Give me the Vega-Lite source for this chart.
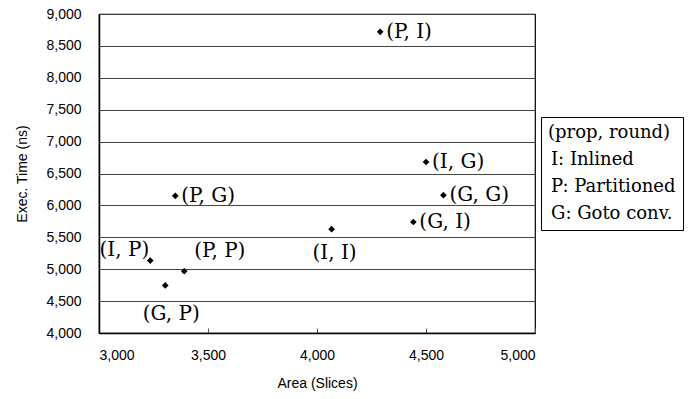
{
  "$schema": "https://vega.github.io/schema/vega-lite/v6.json",
  "width": 436,
  "height": 319,
  "autosize": "none",
  "padding": {"left": 99, "top": 14, "right": 156, "bottom": 66},
  "background": "white",
  "data": {
    "values": [
      {"area": 4290, "time": 8720, "label": "(P, I)", "prop": "P", "round": "I"},
      {"area": 4500, "time": 6680, "label": "(I, G)", "prop": "I", "round": "G"},
      {"area": 4580, "time": 6160, "label": "(G, G)", "prop": "G", "round": "G"},
      {"area": 4442, "time": 5740, "label": "(G, I)", "prop": "G", "round": "I"},
      {"area": 4067, "time": 5628, "label": "(I, I)", "prop": "I", "round": "I"},
      {"area": 3350, "time": 6150, "label": "(P, G)", "prop": "P", "round": "G"},
      {"area": 3235, "time": 5135, "label": "(I, P)", "prop": "I", "round": "P"},
      {"area": 3304, "time": 4745, "label": "(G, P)", "prop": "G", "round": "P"},
      {"area": 3391, "time": 4968, "label": "(P, P)", "prop": "P", "round": "P"}
    ]
  },
  "encoding": {
    "x": {
      "field": "area", "type": "quantitative",
      "scale": {"domain": [3000, 5000], "nice": false, "zero": false},
      "axis": {
        "title": "Area (Slices)", "format": ",.0f", "values": [3000, 3500, 4000, 4500, 5000],
        "grid": false, "domainColor": "black", "domainWidth": 1.5,
        "tickColor": "#555", "tickSize": -5, "tickWidth": 1,
        "labelFont": "Liberation Sans", "labelFontSize": 14, "labelColor": "black", "labelPadding": 20,
        "titleFont": "Liberation Sans", "titleFontSize": 14, "titleFontWeight": "normal", "titleColor": "black", "titlePadding": 14
      }
    },
    "y": {
      "field": "time", "type": "quantitative",
      "scale": {"domain": [4000, 9000], "nice": false, "zero": false},
      "axis": {
        "title": "Exec. Time (ns)", "format": ",.0f", "values": [4000, 4500, 5000, 5500, 6000, 6500, 7000, 7500, 8000, 8500, 9000],
        "grid": true, "gridColor": "#444", "gridWidth": 1.2, "gridOpacity": 1,
        "domainColor": "black", "domainWidth": 1.5, "ticks": false,
        "labelFont": "Liberation Sans", "labelFontSize": 14, "labelColor": "black", "labelPadding": 18,
        "titleFont": "Liberation Sans", "titleFontSize": 14, "titleFontWeight": "normal", "titleColor": "black", "titlePadding": 16
      }
    }
  },
  "layer": [
    {
      "mark": {"type": "point", "shape": "diamond", "filled": true, "size": 45, "opacity": 1},
      "encoding": {
        "color": {
          "field": "prop", "type": "nominal",
          "scale": {"domain": ["I", "P", "G"], "range": ["black", "black", "black"]},
          "legend": {
            "title": "(prop, round)",
            "orient": "none", "legendX": 442, "legendY": 103,
            "labelExpr": "datum.label == 'I' ? 'I: Inlined' : datum.label == 'P' ? 'P: Partitioned' : 'G: Goto conv.'",
            "symbolSize": 0, "symbolOpacity": 0, "symbolStrokeWidth": 0, "labelOffset": -15,
            "strokeColor": "black", "fillColor": "white", "padding": 7,
            "titleFont": "DejaVu Serif", "titleFontSize": 18, "titleFontWeight": "normal", "titleColor": "black", "titlePadding": 9,
            "labelFont": "DejaVu Serif", "labelFontSize": 18, "labelColor": "black", "rowPadding": 9
          }
        }
      }
    },
    {
      "transform": [{"filter": {"field": "label", "oneOf": ["(P, I)", "(I, G)", "(G, G)", "(G, I)", "(P, G)"]}}],
      "mark": {"type": "text", "align": "left", "baseline": "middle", "dx": 6, "font": "DejaVu Serif", "fontSize": 20, "color": "black"},
      "encoding": {"text": {"field": "label"}}
    },
    {
      "transform": [{"filter": {"field": "label", "equal": "(I, I)"}}],
      "mark": {"type": "text", "align": "center", "baseline": "middle", "dx": 3, "dy": 24, "font": "DejaVu Serif", "fontSize": 20, "color": "black"},
      "encoding": {"text": {"field": "label"}}
    },
    {
      "transform": [{"filter": {"field": "label", "equal": "(I, P)"}}],
      "mark": {"type": "text", "align": "right", "baseline": "middle", "dx": -1, "dy": -11, "font": "DejaVu Serif", "fontSize": 20, "color": "black"},
      "encoding": {"text": {"field": "label"}}
    },
    {
      "transform": [{"filter": {"field": "label", "equal": "(G, P)"}}],
      "mark": {"type": "text", "align": "center", "baseline": "middle", "dx": 6, "dy": 29, "font": "DejaVu Serif", "fontSize": 20, "color": "black"},
      "encoding": {"text": {"field": "label"}}
    },
    {
      "transform": [{"filter": {"field": "label", "equal": "(P, P)"}}],
      "mark": {"type": "text", "align": "left", "baseline": "middle", "dx": 10, "dy": -20, "font": "DejaVu Serif", "fontSize": 20, "color": "black"},
      "encoding": {"text": {"field": "label"}}
    }
  ],
  "config": {
    "view": {"stroke": "black", "strokeWidth": 1.2},
    "font": "Liberation Sans"
  }
}
